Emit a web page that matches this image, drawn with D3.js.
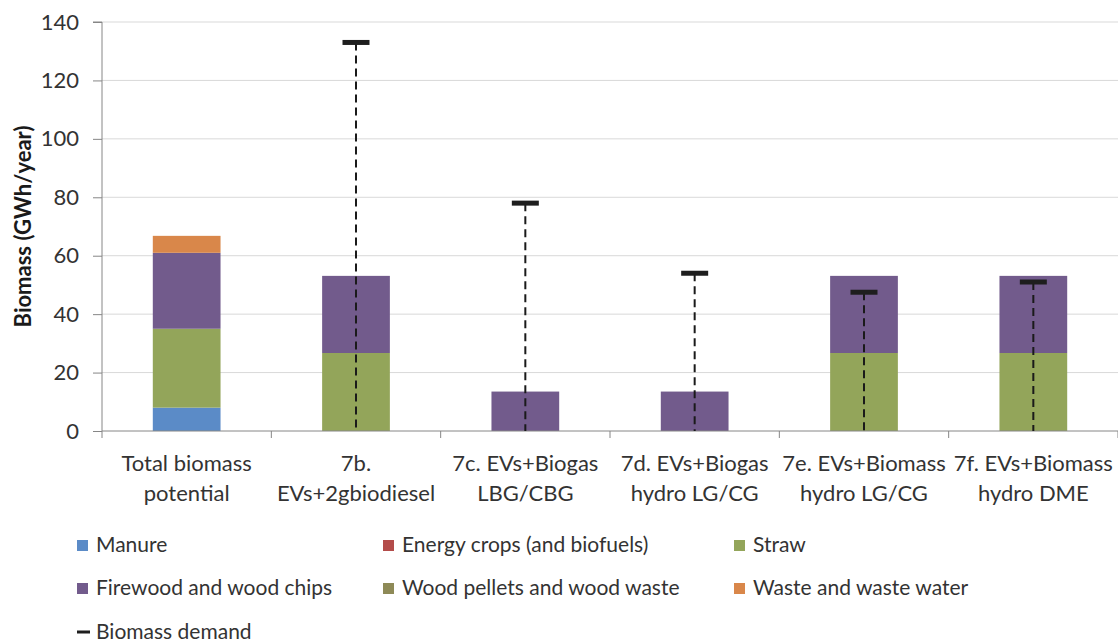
<!DOCTYPE html>
<html><head><meta charset="utf-8">
<script src="https://cdn.jsdelivr.net/npm/d3@7"></script>
<style>body{margin:0;background:#fff}svg{display:block}text{font-family:Lato,"Open Sans",sans-serif;fill:#333}</style>
</head><body><svg id="c" width="1118" height="642"></svg>
<script>
const categories = [
  ["Total biomass", "potential"],
  ["7b.", "EVs+2gbiodiesel"],
  ["7c. EVs+Biogas", "LBG/CBG"],
  ["7d. EVs+Biogas", "hydro LG/CG"],
  ["7e. EVs+Biomass", "hydro LG/CG"],
  ["7f. EVs+Biomass", "hydro DME"]
];
const seriesNames = ["Manure", "Energy crops (and biofuels)", "Straw", "Firewood and wood chips", "Wood pellets and wood waste", "Waste and waste water"];
const manure       = [8, 0, 0, 0, 0, 0];
const energyCrops  = [0, 0, 0, 0, 0, 0];
const straw        = [27, 26.7, 0, 0, 26.7, 26.7];
const firewood     = [26, 26.4, 13.5, 13.5, 26.4, 26.4];
const woodPellets  = [0, 0, 0, 0, 0, 0];
const wasteWater   = [5.8, 0, 0, 0, 0, 0];
const demand       = [null, 133, 78, 54, 47.5, 51];
const yTicks = [0, 20, 40, 60, 80, 100, 120, 140];
const colors = ["#5b8bc7", "#b34c4a", "#93a55a", "#725b8c", "#8e8a57", "#d9874a"];

const svg = d3.select("#c");
const m = {l:102, r:0, t:22, b:211};
const W = 1118, H = 642;
const x = d3.scaleBand().domain(d3.range(categories.length)).range([m.l, W - m.r]).paddingInner(0).paddingOuter(0);
const y = d3.scaleLinear().domain([0, 140]).range([H - m.b, m.t]);

// gridlines
svg.append("g").selectAll("line").data(yTicks.slice(1)).join("line")
  .attr("x1", m.l).attr("x2", W).attr("y1", d => y(d)).attr("y2", d => y(d))
  .attr("stroke", "#d9d9d9").attr("stroke-width", 1);

// stacked bars
const series = [manure, energyCrops, straw, firewood, woodPellets, wasteWater];
const rows = categories.map((c, i) => { const o = {i}; series.forEach((s, k) => o[k] = s[i]); return o; });
const stack = d3.stack().keys(d3.range(series.length))(rows);
const bw = x.bandwidth() * 0.4;
svg.append("g").selectAll("g").data(stack).join("g").attr("fill", (d, k) => colors[k])
  .selectAll("rect").data(d => d.filter(p => p[1] - p[0] > 0)).join("rect")
  .attr("x", p => x(p.data.i) + (x.bandwidth() - bw) / 2).attr("width", bw)
  .attr("y", p => y(p[1])).attr("height", p => y(p[0]) - y(p[1]));

// y axis
const ya = svg.append("g").attr("transform", `translate(${m.l},0)`)
  .call(d3.axisLeft(y).tickValues(yTicks).tickSize(9).tickPadding(14));
ya.select(".domain").attr("stroke", "#868686").attr("d", `M-9,${y(140)}H0V${y(0)}`);
ya.selectAll(".tick line").attr("stroke", "#868686");
ya.selectAll(".tick text").style("font-size", "22px").attr("fill", "#333").style("font-family", "Lato,'Open Sans',sans-serif");

// x axis
const xg = svg.append("g");
xg.append("line").attr("x1", m.l).attr("x2", W).attr("y1", y(0)).attr("y2", y(0)).attr("stroke", "#868686");
xg.selectAll("line.t").data(d3.range(categories.length + 1)).join("line").attr("class", "t")
  .attr("x1", i => m.l + i * x.step()).attr("x2", i => m.l + i * x.step())
  .attr("y1", y(0)).attr("y2", y(0) + 7).attr("stroke", "#868686");
const xl = xg.selectAll("text").data(categories).join("text")
  .attr("text-anchor", "middle").style("font-size", "22px");
xl.each(function(c, i) {
  const t = d3.select(this);
  c.forEach((line, j) => t.append("tspan").attr("x", x(i) + x.bandwidth() / 2).attr("y", 471 + j * 30).text(line));
});

// demand: dashed minus error bar + cap marker
const dem = svg.append("g");
const dd = demand.map((v, i) => ({v, i})).filter(d => d.v != null);
dem.selectAll("line.e").data(dd).join("line").attr("class", "e")
  .attr("x1", d => x(d.i) + x.bandwidth() / 2).attr("x2", d => x(d.i) + x.bandwidth() / 2)
  .attr("y1", d => y(d.v)).attr("y2", y(0))
  .attr("stroke", "#1a1a1a").attr("stroke-width", 2).attr("stroke-dasharray", "8,5");
dem.selectAll("rect").data(dd).join("rect")
  .attr("x", d => x(d.i) + x.bandwidth() / 2 - 13.5).attr("width", 27)
  .attr("y", d => y(d.v) - 2.5).attr("height", 5).attr("fill", "#1e1e1e");

// legend
const legendItems = seriesNames.map((n, k) => ({n, k, type: "sq"})).concat([{n: "Biomass demand", type: "line"}]);
const legPos = [[77, 545], [383, 545], [734, 545], [77, 588], [383, 588], [734, 588], [77, 632]];
const lg = svg.append("g");
legendItems.forEach((d, idx) => {
  const [lx, ly] = legPos[idx];
  if (d.type === "sq") lg.append("rect").attr("x", lx).attr("y", ly - 5).attr("width", 11).attr("height", 11).attr("fill", colors[d.k]);
  else lg.append("rect").attr("x", lx).attr("y", ly - 1.5).attr("width", 13).attr("height", 3).attr("fill", "#1e1e1e");
  lg.append("text").attr("x", lx + 19).attr("y", ly).attr("dy", "0.35em").style("font-size", "21px").text(d.n);
});

// y title
svg.append("text").attr("transform", `translate(23,${(y(0) + y(140)) / 2}) rotate(-90)`)
  .attr("text-anchor", "middle").attr("dy", "0.35em").style("font-size", "22px").style("font-weight", "bold")
  .style("fill", "#1a1a1a").text("Biomass (GWh/year)");
</script></body></html>
